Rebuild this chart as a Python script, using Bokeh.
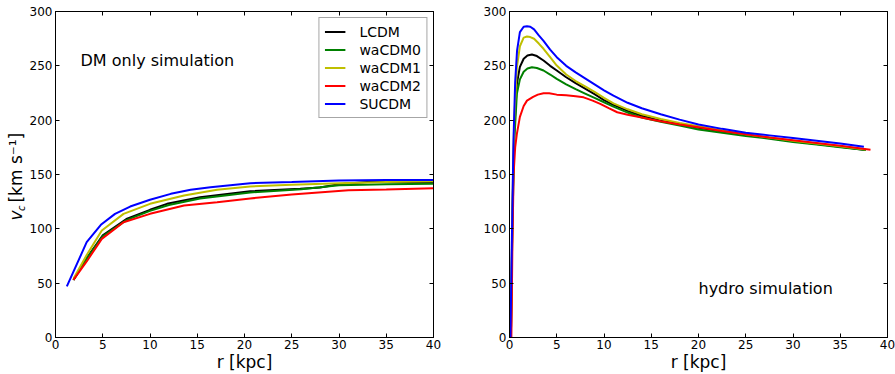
from math import pi
from bokeh.plotting import figure
from bokeh.models import Range1d, LinearAxis, Label, Legend, LegendItem, FixedTicker
from bokeh.layouts import row
from bokeh.embed import file_html
from bokeh.resources import INLINE

FONT = "DejaVu Sans"

# ---------------- data ----------------
names = ["LCDM", "waCDM0", "waCDM1", "waCDM2", "SUCDM"]
colors = ["#000000", "#008000", "#bfbf00", "#ff0000", "#0000ff"]
x_ticks = [0, 5, 10, 15, 20, 25, 30, 35, 40]
y_ticks = [0, 50, 100, 150, 200, 250, 300]

# DM only simulation
dm_lcdm_r = [1.9, 3.3, 5.0, 7.5, 10.0, 11.8, 15.3, 20.6, 25.9, 28.0, 30.0, 33.0, 40.0]
dm_lcdm_v = [53, 73, 94, 109, 117.5, 123, 129, 134.6, 136.8, 138, 141, 143, 143]
dm_wa0_r = [1.9, 3.3, 5.0, 7.5, 10.0, 12.0, 15.3, 20.6, 26.0, 30.0, 35.0, 40.0]
dm_wa0_v = [53, 72.5, 93, 108, 116.5, 122, 128, 133.5, 136.5, 140, 141, 141.4]
dm_wa1_r = [1.9, 3.3, 4.9, 7.2, 10.0, 13.6, 17.1, 20.6, 25.0, 30.0, 35.0, 40.0]
dm_wa1_v = [54, 76, 98.5, 113.8, 123, 130.7, 135.9, 139, 140.5, 142, 143, 143.7]
dm_wa2_r = [1.9, 3.3, 4.9, 7.2, 10.0, 13.6, 17.1, 20.6, 25.0, 31.0, 35.0, 40.0]
dm_wa2_v = [53, 70, 90.8, 106, 113.8, 121.5, 124.5, 128, 131.5, 135.5, 136.2, 137.4]
dm_su_r = [1.2, 3.3, 4.8, 6.3, 7.9, 10.0, 12.2, 14.3, 16.4, 18.5, 20.6, 25.0, 30.0, 35.0, 40.0]
dm_su_v = [47, 87.7, 103.7, 113.8, 120.5, 126.7, 132.2, 135.9, 138.3, 140.2, 142, 143, 144.5, 145, 145]

# hydro simulation
hy_lcdm_r = [0.15, 0.3, 0.5, 0.78, 1.1, 1.5, 1.9, 2.37, 2.9, 3.6, 4.3, 5.0, 6, 7, 8, 9, 10, 11,
             12.5, 14, 16, 18, 20, 22.5, 25, 27.5, 30, 32.5, 35, 37.7]
hy_lcdm_v = [0, 110, 190, 233.5, 249, 256.5, 259.5, 260.4, 259, 254.9, 250, 245.7, 239.5, 234, 229,
             224, 218.5, 214, 208.5, 204, 199.5, 196, 193, 189.5, 186.5, 183.5, 180.5, 178, 175.5, 172.5]
hy_wa0_r = [0.15, 0.3, 0.5, 0.78, 1.1, 1.5, 1.9, 2.37, 2.9, 3.6, 4.3, 5.0, 6, 7, 8, 9, 10, 11,
            12.5, 14, 16, 18, 20, 22.5, 25, 27.5, 30, 32.5, 35, 37.7]
hy_wa0_v = [0, 100, 180, 224.3, 237.5, 244.5, 247.5, 248.7, 248, 245.7, 242, 238, 233, 228.5, 224.5,
            220.5, 216.5, 212.5, 207, 202.5, 198.5, 195, 191.5, 188.5, 185.5, 183, 180, 177.5, 175, 172.5]
hy_wa1_r = [0.15, 0.3, 0.5, 0.78, 1.1, 1.5, 1.85, 2.2, 2.6, 3.1, 3.6, 4.3, 5.0, 6.0, 7.0, 8.0, 9, 10,
            11, 12.5, 14, 16, 18, 20, 22.5, 25, 27.5, 30, 32.5, 35, 37.7]
hy_wa1_v = [0, 120, 200, 248.7, 268, 276, 277, 276.5, 274.9, 270.5, 265.7, 258, 250.3, 242, 236, 231,
            226, 220.5, 215.5, 210, 205.5, 201, 197.5, 194.5, 190.5, 187, 184, 181, 178.5, 176, 173]
hy_wa2_r = [0.2, 0.3, 0.43, 0.6, 0.78, 1.1, 1.5, 1.85, 2.5, 3.0, 3.6, 4.2, 5, 6, 7, 7.84, 8.8, 9.6,
            10.5, 11.4, 12.5, 14, 15, 16, 18, 20, 22.5, 25, 27.5, 30, 32.5, 35, 38.2]
hy_wa2_v = [0, 80, 150, 175, 187.4, 203, 213, 218, 221.5, 223.5, 224.8, 224.8, 223.5, 223, 222, 221,
            218, 215, 211, 207.3, 205, 202.5, 200.6, 199, 196, 193.5, 190, 187, 184, 181.5, 179, 176.5, 172.7]
hy_su_r = [0.1, 0.25, 0.42, 0.6, 0.8, 1.1, 1.5, 1.85, 2.2, 2.6, 3.1, 3.6, 4.3, 5.0, 6.0, 7.0, 8.0, 9.0,
           10.0, 11.0, 12.5, 14, 16, 18, 20, 22.5, 25, 27.5, 30, 32.5, 35, 37.5]
hy_su_v = [0, 90, 181, 235, 264, 281, 286, 286.5, 286, 283.5, 278, 273, 265, 258, 250, 244, 238.5, 233,
           227.5, 222.5, 216, 211, 205.5, 200.5, 196, 192, 188.5, 186, 183.5, 181, 178.5, 175.5]

dm_series = [(dm_lcdm_r, dm_lcdm_v), (dm_wa0_r, dm_wa0_v), (dm_wa1_r, dm_wa1_v),
             (dm_wa2_r, dm_wa2_v), (dm_su_r, dm_su_v)]
hy_series = [(hy_lcdm_r, hy_lcdm_v), (hy_wa0_r, hy_wa0_v), (hy_wa1_r, hy_wa1_v),
             (hy_wa2_r, hy_wa2_v), (hy_su_r, hy_su_v)]


def style_axis(ax, ticks, show_labels, standoff):
    ax.ticker = FixedTicker(ticks=ticks)
    ax.major_tick_in = 4
    ax.major_tick_out = 0
    ax.minor_tick_in = 0
    ax.minor_tick_out = 0
    ax.axis_line_color = "black"
    ax.major_tick_line_color = "black"
    ax.major_label_standoff = standoff
    if show_labels:
        ax.major_label_text_font = FONT
        ax.major_label_text_font_size = "12px"
        ax.major_label_text_color = "black"
    else:
        ax.major_label_text_font_size = "0px"
        ax.major_label_text_alpha = 0
        ax.axis_label_standoff = 0
        ax.axis_label_text_font_size = "0px"


def make_fig(width, bl, br, series):
    p = figure(width=width, height=374, x_range=Range1d(0, 40), y_range=Range1d(0, 300),
               output_backend="svg", toolbar_location=None,
               min_border_left=bl, min_border_right=br, min_border_top=11, min_border_bottom=37)
    p.grid.visible = False
    p.outline_line_color = "black"
    p.outline_line_width = 1
    p.background_fill_color = "white"
    p.border_fill_color = "white"
    style_axis(p.xaxis[0], x_ticks, True, 2)
    style_axis(p.yaxis[0], y_ticks, True, 3)
    ax = p.xaxis[0]
    ax.axis_label = "r [kpc]"
    ax.axis_label_text_font = FONT
    ax.axis_label_text_font_size = "17px"
    ax.axis_label_text_font_style = "normal"
    ax.axis_label_text_color = "black"
    ax.axis_label_standoff = 0
    top = LinearAxis()
    style_axis(top, x_ticks, False, 0)
    p.add_layout(top, "above")
    right = LinearAxis()
    style_axis(right, y_ticks, False, 0)
    p.add_layout(right, "right")
    renderers = []
    for (r, v), c in zip(series, colors):
        renderers.append(p.line(r, v, line_color=c, line_width=2))
    return p, renderers


# narrow panel that carries the y axis title  v_c [km s^-1]
# x in pixels across the panel, y on the same velocity scale as the left plot
ylab = figure(width=26, height=374, x_range=Range1d(0, 26), y_range=Range1d(0, 300),
              output_backend="svg", toolbar_location=None, x_axis_type=None, y_axis_type=None,
              min_border_left=0, min_border_right=0, min_border_top=11, min_border_bottom=37)
ylab.outline_line_color = None
ylab.grid.visible = False
ylab.add_layout(Label(x=15, y=107.7, text="v", angle=pi / 2, text_font=FONT, text_font_size="17px",
                      text_font_style="italic", text_align="left", text_baseline="alphabetic",
                      text_color="black"))
ylab.add_layout(Label(x=20.5, y=116.5, text="c", angle=pi / 2, text_font=FONT, text_font_size="10px",
                      text_font_style="italic", text_align="left", text_baseline="alphabetic",
                      text_color="black"))
ylab.add_layout(Label(x=15, y=124.2, text="[km s⁻¹]", angle=pi / 2, text_font=FONT,
                      text_font_size="17px", text_align="left", text_baseline="alphabetic",
                      text_color="black"))

p1, rs1 = make_fig(424, 29, 17, dm_series)
p2, rs2 = make_fig(445, 59, 8, hy_series)

legend = Legend(items=[LegendItem(label=n, renderers=[r]) for n, r in zip(names, rs1)],
                location="top_right", margin=6, padding=5, spacing=1,
                glyph_width=21, glyph_height=17, label_height=17, label_standoff=14,
                label_text_font=FONT, label_text_font_size="14px", label_text_color="black",
                border_line_color="#4d4d4d", border_line_width=1.5, background_fill_alpha=1)
p1.add_layout(legend)

p1.add_layout(Label(x=2.65, y=255, text="DM only simulation", text_font=FONT,
                    text_font_size="16px", text_baseline="middle", text_color="black"))
p2.add_layout(Label(x=20.0, y=45, text="hydro simulation", text_font=FONT,
                    text_font_size="16px", text_baseline="middle", text_color="black"))

layout = row(ylab, p1, p2)
open("out.html", "w").write(file_html(layout, INLINE))
